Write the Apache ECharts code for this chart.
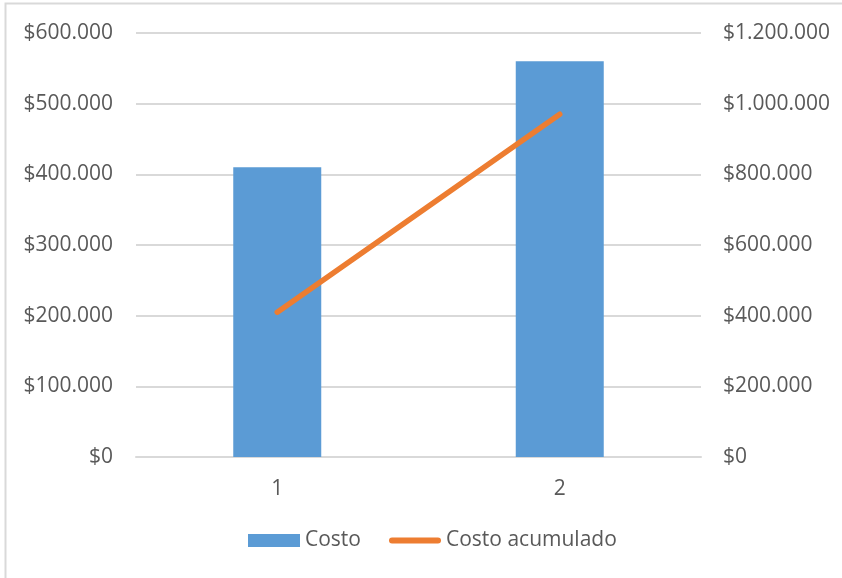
<!DOCTYPE html>
<html>
<head>
<meta charset="utf-8">
<script src="https://cdn.jsdelivr.net/npm/echarts@6/dist/echarts.min.js"></script>
<style>
  html, body { margin: 0; padding: 0; background: #fff; }
  #chart { width: 842px; height: 578px; }
</style>
</head>
<body>
<div id="chart"></div>
<script>
var categories = ['1', '2'];
var costo = [410000, 560000];
var costoAcumulado = [410000, 970000];

function money(v) {
  // thousands with dots, like $1.200.000
  return '$' + String(v).replace(/\B(?=(\d{3})+(?!\d))/g, '.');
}

var textColor = '#595959';
var font = '"Open Sans", "Noto Sans", sans-serif';
var lineIcon = 'path://M3,0 L49,0 A3,3 0 0 1 49,6 L3,6 A3,3 0 0 1 3,0 Z';

var chart = echarts.init(document.getElementById('chart'), null, { renderer: 'canvas' });
chart.setOption({
  animation: false,
  textStyle: { fontFamily: font },
  graphic: [{
    type: 'rect',
    shape: { x: 5.5, y: 3.5, width: 900, height: 700 },
    style: { fill: 'none', stroke: '#D9D9D9', lineWidth: 2 },
    silent: true
  }],
  grid: { left: 136, right: 141, top: 33, bottom: 121 },
  legend: {
    bottom: 22,
    left: 243,
    itemWidth: 52,
    itemHeight: 13,
    itemGap: 28,
    symbolKeepAspect: true,
    textStyle: { color: textColor, fontSize: 21, fontFamily: font },
    data: [
      { name: 'Costo', icon: 'rect' },
      { name: 'Costo acumulado', icon: lineIcon }
    ]
  },
  xAxis: {
    type: 'category',
    data: categories,
    axisLine: { lineStyle: { color: '#D9D9D9', width: 2 } },
    axisTick: { show: false },
    axisLabel: { color: textColor, fontSize: 21, margin: 22 }
  },
  yAxis: [{
    type: 'value',
    min: 0, max: 600000, interval: 100000,
    axisLine: { show: false },
    axisTick: { show: false },
    splitLine: { lineStyle: { color: '#D9D9D9', width: 2 } },
    axisLabel: { color: textColor, fontSize: 21, margin: 23, formatter: money }
  }, {
    type: 'value',
    min: 0, max: 1200000, interval: 200000,
    axisLine: { show: false },
    axisTick: { show: false },
    splitLine: { show: false },
    axisLabel: { color: textColor, fontSize: 21, margin: 22, formatter: money }
  }],
  series: [{
    name: 'Costo',
    type: 'bar',
    data: costo,
    yAxisIndex: 0,
    barWidth: 88,
    itemStyle: { color: '#5B9BD5' }
  }, {
    name: 'Costo acumulado',
    type: 'line',
    data: costoAcumulado,
    yAxisIndex: 1,
    symbol: 'none',
    lineStyle: { color: '#ED7D31', width: 5.5, cap: 'round' },
    itemStyle: { color: '#ED7D31' }
  }]
});
</script>
</body>
</html>
